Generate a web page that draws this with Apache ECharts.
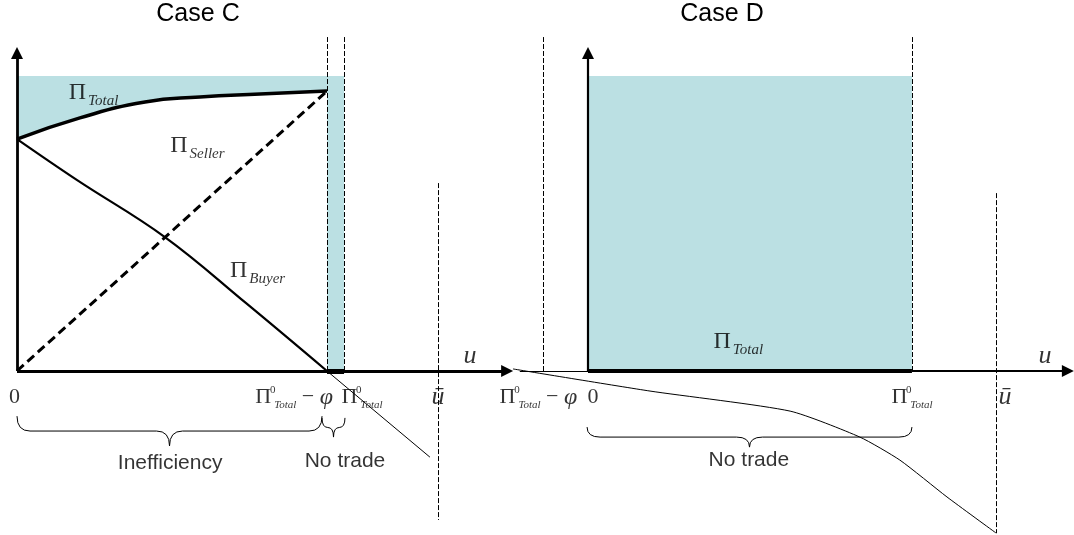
<!DOCTYPE html>
<html>
<head>
<meta charset="utf-8">
<title>Case C / Case D</title>
<script src="https://cdn.jsdelivr.net/npm/echarts@6/dist/echarts.min.js"></script>
<style>
  html, body { margin: 0; padding: 0; background: #fff; }
  #chart { width: 1074px; height: 535px; }
</style>
</head>
<body>
<div id="chart"></div>
<script>
// ---- values, in axis units (u on x, profit on y) ----
// Case C
const cTotal = [[0, 7.86], [2.03, 8.58], [4.13, 9.12], [5.9, 9.29], [7.84, 9.39], [10, 9.49]];
const cSeller = [[0, 0], [10, 9.49]];
const cBuyer = [[0, 7.86], [1.94, 6.47], [4.77, 4.54], [7.39, 2.3], [10, 0]];
const cBuyerTail = [[10, 0], [13.32, -2.92]];
const cMarks = [10, 10.55];          // Π0Total − φ , Π0Total
const cUbar = [13.58, 6.37, -5.05];  // x, top, bottom
// Case D
const dCurve = [[-2.42, 0.07], [2.0, -0.68], [6.52, -1.36], [8.77, -2.24], [10.06, -3.02], [11.58, -4.27], [13.16, -5.49]];
const dMarks = [-1.45, 10.45];       // Π0Total − φ , Π0Total
const dUbar = [13.16, 6.03, -5.5];
const shadeTop = 10;
const markTop = 11.32;

// braces: [from, to, top, tip]
const cBraces = [[0, 9.84, -1.53, -2.54], [9.84, 10.58, -1.59, -2.24]];
const dBraces = [[-0.03, 10.45, -1.9, -2.58]];

// labels: [x, y, text]
const cLabels = [
  [-0.08, -0.9, '{n|0}'],
  [8.94, -0.9, '{p|Π}{sup|0}{sub|Total}{m| − }{phi|φ}'],
  [11.13, -0.9, '{p|Π}{sup|0}{sub|Total}'],
  [13.58, -0.88, '{u|ū}'],
  [14.61, 0.5, '{u|u}'],
  [2.47, 9.43, '{P|Π}{S|Total}'],
  [5.82, 7.64, '{P|Π}{S|Seller}'],
  [7.76, 3.41, '{P|Π}{S|Buyer}'],
  [4.94, -3.12, '{t|Inefficiency}'],
  [10.58, -3.05, '{t|No trade}']
];
const dLabels = [
  [-1.6, -0.9, '{p|Π}{sup|0}{sub|Total}{m| − }{phi|φ}'],
  [0.16, -0.9, '{n|0}'],
  [10.45, -0.9, '{p|Π}{sup|0}{sub|Total}'],
  [13.45, -0.88, '{u|ū}'],
  [14.74, 0.5, '{u|u}'],
  [4.85, 1.0, '{P|Π}{S|Total}'],
  [5.19, -3.02, '{t|No trade}']
];

const SERIF = 'Liberation Serif';
const SANS = 'Liberation Sans';
const SHADE = '#BBE0E3';

const RICH = {
  P: { fontFamily: SERIF, fontSize: 24, color: '#000' },
  S: { fontFamily: SERIF, fontStyle: 'italic', fontSize: 15, color: '#000', verticalAlign: 'top', padding: [17, 0, 0, 2] },
  p: { fontFamily: SERIF, fontSize: 22, color: '#000' },
  sup: { fontFamily: SERIF, fontSize: 11, color: '#000', verticalAlign: 'top', width: 1, padding: [0, 0, 0, 1] },
  sub: { fontFamily: SERIF, fontStyle: 'italic', fontSize: 11, color: '#000', verticalAlign: 'top', padding: [15, 0, 0, 1] },
  m: { fontFamily: SERIF, fontSize: 22, color: '#000' },
  phi: { fontFamily: SERIF, fontStyle: 'italic', fontSize: 24, color: '#000' },
  n: { fontFamily: SERIF, fontSize: 22, color: '#000' },
  u: { fontFamily: SERIF, fontStyle: 'italic', fontSize: 26, color: '#000' },
  t: { fontFamily: SANS, fontSize: 21, color: '#000' }
};

function seg(x1, y1, x2, y2) {
  return [{ coord: [x1, y1] }, { coord: [x2, y2] }];
}

function markLines(idx, lines, width, type, arrow, z) {
  return {
    type: 'line', xAxisIndex: idx, yAxisIndex: idx, data: [], silent: true, z: z,
    markLine: {
      silent: true, animation: false,
      symbol: arrow ? ['none', 'triangle'] : ['none', 'none'],
      symbolSize: 12,
      label: { show: false },
      emphasis: { disabled: true },
      lineStyle: { color: '#000', width: width, type: type, opacity: 1 },
      data: lines
    }
  };
}

function curve(idx, data, width, opts) {
  return Object.assign({
    type: 'line', xAxisIndex: idx, yAxisIndex: idx, data: data, showSymbol: false, silent: true,
    lineStyle: { color: '#000', width: width }, z: 3
  }, opts || {});
}

function labels(idx, list) {
  return {
    type: 'scatter', xAxisIndex: idx, yAxisIndex: idx, symbolSize: 0, silent: true, clip: false, z: 9,
    data: list.map(([x, y, t]) => ({ value: [x, y], label: { formatter: t } })),
    label: { show: true, position: [0, 0], align: 'center', verticalAlign: 'middle', rich: RICH }
  };
}

function bracePath(a, b, t) {
  const my = (a[1] + t[1]) / 2;
  const r = Math.min(13, (b[0] - a[0]) / 4);
  const tx = t[0];
  return 'M' + a[0] + ' ' + a[1] +
    ' Q' + a[0] + ' ' + my + ' ' + (a[0] + r) + ' ' + my +
    ' L' + (tx - r) + ' ' + my +
    ' Q' + tx + ' ' + my + ' ' + tx + ' ' + t[1] +
    ' Q' + tx + ' ' + my + ' ' + (tx + r) + ' ' + my +
    ' L' + (b[0] - r) + ' ' + my +
    ' Q' + b[0] + ' ' + my + ' ' + b[0] + ' ' + b[1];
}

function braces(idx, data) {
  return {
    type: 'custom', xAxisIndex: idx, yAxisIndex: idx, silent: true, clip: false, z: 8, data: data,
    renderItem: (params, api) => {
      const a = api.coord([api.value(0), api.value(2)]);
      const b = api.coord([api.value(1), api.value(2)]);
      const t = api.coord([(api.value(0) + api.value(1)) / 2, api.value(3)]);
      return { type: 'path', shape: { pathData: bracePath(a, b, t) }, style: { stroke: '#000', fill: null, lineWidth: 1 } };
    }
  };
}

const chart = echarts.init(document.getElementById('chart'));

const option = {
  animation: false,
  backgroundColor: '#fff',
  graphic: [
    { type: 'text', x: 198, y: 14, style: { text: 'Case C', align: 'center', verticalAlign: 'middle', fontFamily: SANS, fontSize: 25, fill: '#000' } },
    { type: 'text', x: 722, y: 14, style: { text: 'Case D', align: 'center', verticalAlign: 'middle', fontFamily: SANS, fontSize: 25, fill: '#000' } }
  ],
  grid: [
    { left: 17, top: 34.7, width: 496, height: 498.55 },
    { left: 495, top: 34.7, width: 578.15, height: 498.55 }
  ],
  xAxis: [
    { gridIndex: 0, type: 'value', min: 0, max: 16, show: false },
    { gridIndex: 1, type: 'value', min: -3, max: 15.65, show: false }
  ],
  yAxis: [
    { gridIndex: 0, type: 'value', min: -5.5, max: 11.4, show: false },
    { gridIndex: 1, type: 'value', min: -5.5, max: 11.4, show: false }
  ],
  series: [
    // ---- Case C ----
    curve(0, [[0, shadeTop], [cMarks[1], shadeTop]], 0, { areaStyle: { color: SHADE, opacity: 1 }, z: 1 }),
    curve(0, cTotal, 3.5, { smooth: 0.5, areaStyle: { color: '#fff', opacity: 1 }, z: 2 }),
    curve(0, cSeller, 3, { lineStyle: { color: '#000', width: 3, type: [9, 5] } }),
    curve(0, cBuyer, 2.2, { smooth: 0.4 }),
    curve(0, cBuyerTail, 1),
    markLines(0, [
      seg(cMarks[0], 0, cMarks[0], markTop),
      seg(cMarks[1], 0, cMarks[1], markTop),
      seg(cUbar[0], cUbar[1], cUbar[0], cUbar[2])
    ], 1, [5, 2], false, 4),
    markLines(0, [seg(0, 0, 15.81, 0), seg(0, 0, 0, 10.78)], 2.8, 'solid', true, 6),
    markLines(0, [seg(cMarks[0], 0, cMarks[1], 0)], 5, 'solid', false, 6),
    labels(0, cLabels),
    braces(0, cBraces),
    // ---- Case D ----
    curve(1, [[0, shadeTop], [dMarks[1], shadeTop]], 0, { areaStyle: { color: SHADE, opacity: 1 }, z: 1 }),
    curve(1, dCurve, 1, { smooth: 0.2 }),
    markLines(1, [
      seg(dMarks[0], 0, dMarks[0], markTop),
      seg(dMarks[1], 0, dMarks[1], markTop),
      seg(dUbar[0], dUbar[1], dUbar[0], dUbar[2])
    ], 1, [5, 2], false, 4),
    markLines(1, [seg(-2.2, 0, 0, 0)], 1, 'solid', false, 6),
    markLines(1, [seg(dMarks[1], 0, 15.48, 0), seg(0, 0, 0, 10.78)], 2.2, 'solid', true, 6),
    markLines(1, [seg(0, 0, dMarks[1], 0)], 4, 'solid', false, 6),
    labels(1, dLabels),
    braces(1, dBraces)
  ]
};

chart.setOption(option);
</script>
</body>
</html>
